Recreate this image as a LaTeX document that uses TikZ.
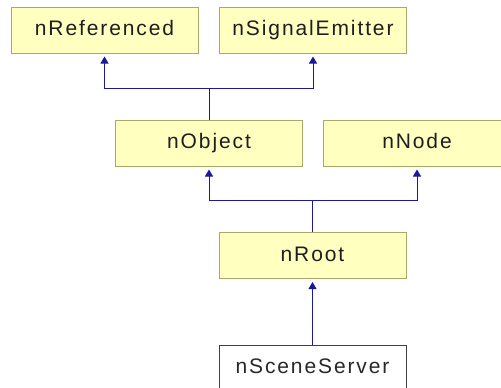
\documentclass[tikz,border=0pt]{standalone}
\usepackage{fontspec}
\setmainfont[LetterSpace=9]{Liberation Sans}
\usetikzlibrary{arrows.meta}
\definecolor{boxfill}{HTML}{FFFFC0}
\definecolor{boxline}{HTML}{A8A86A}
\definecolor{edgecol}{HTML}{1A1A96}
\definecolor{txt}{HTML}{1E1E1E}
\tikzset{
  cls/.style={draw=boxline, fill=boxfill, line width=1pt, minimum width=187pt, minimum height=46pt,
    inner sep=0pt, text height=15pt, text depth=4pt, font=\fontsize{21pt}{23pt}\selectfont, text=txt},
  leaf/.style={cls, draw={rgb,255:red,64;green,64;blue,64}, fill=white, text={rgb,255:red,40;green,40;blue,40}},
  edge/.style={draw=edgecol, line width=1pt},
  inh/.style={edge, -{Triangle[width=8pt,length=7pt]}, shorten >=3pt},
}
\begin{document}
\begin{tikzpicture}[x=1pt, y=-1pt]
\useasboundingbox (0,0) rectangle (501,388);
\clip (0,0) rectangle (501,388);
\node[cls] (ref) at (104.5,30) {nReferenced};
\node[cls] (sig) at (313,30) {nSignalEmitter};
\node[cls] (obj) at (209,143) {nObject};
\node[cls] (nod) at (417,143) {nNode};
\node[cls] (root) at (312.5,255.5) {nRoot};
\node[leaf] (ss) at (312.5,368) {nSceneServer};
\coordinate (j1) at (209,88);
\coordinate (j2) at (312.5,200);
\draw[edge] (obj.north) -- (j1);
\draw[inh] (j1) -| (ref.south);
\draw[inh] (j1) -| (sig.south);
\draw[edge] (root.north) -- (j2);
\draw[inh] (j2) -| (obj.south);
\draw[inh] (j2) -| (nod.south);
\draw[inh] (ss.north) -- (root.south);
\end{tikzpicture}
\end{document}
